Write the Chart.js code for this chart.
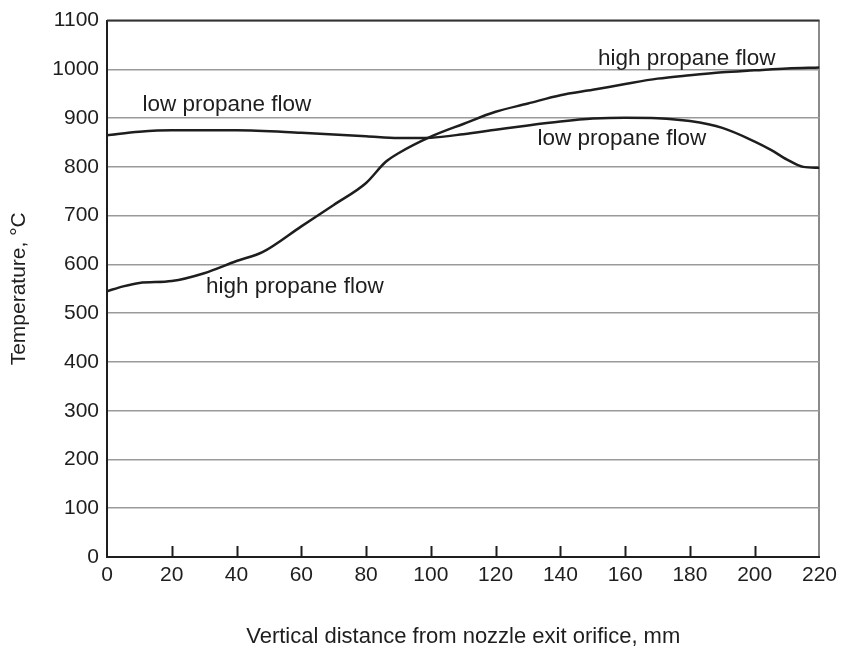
<!DOCTYPE html>
<html>
<head>
<meta charset="utf-8">
<script src="https://cdn.jsdelivr.net/npm/chart.js@4.4.1/dist/chart.umd.min.js"></script>
<style>
  html, body { margin: 0; padding: 0; background: #fff; }
  #wrap { width: 843px; height: 655px; }
</style>
</head>
<body>
<div id="wrap"><canvas id="grafico" width="843" height="655"></canvas></div>
<script>
// data
const xHigh = [0, 5, 10, 20, 30, 40, 48, 60, 70, 80, 86, 90, 100, 110, 120, 130, 140, 150, 160, 170, 180, 190, 200, 210, 220];
const tHigh = [545, 555, 562, 566, 582, 607, 625, 678, 722, 767, 810, 828, 862, 888, 913, 930, 947, 958, 970, 981, 988, 994, 998, 1002, 1004];

const xLow = [0, 10, 20, 40, 60, 80, 90, 100, 110, 120, 130, 140, 150, 160, 170, 180, 190, 200, 205, 210, 215, 220];
const tLow = [865, 872, 875, 875, 870, 863, 859, 860, 867, 876, 885, 893, 899, 901, 900, 894, 880, 852, 835, 815, 800, 798];

const xTicks = [0, 20, 40, 60, 80, 100, 120, 140, 160, 180, 200, 220];
const yTicks = [0, 100, 200, 300, 400, 500, 600, 700, 800, 900, 1000, 1100];

const labelText = ['low propane flow', 'high propane flow', 'high propane flow', 'low propane flow'];
const labelX = [37, 58, 179, 159];
const labelY = [927, 555, 1021, 858];

const ink = '#1e1e1e';
const fuente = 'Liberation Sans, Arial, Helvetica, sans-serif';

const pts = (xs, ys) => xs.map((x, i) => ({ x: x, y: ys[i] }));

// inward ticks on the x axis, top frame line and curve labels
const extras = {
  id: 'extras',
  afterDraw(chart) {
    const c = chart.ctx;
    const sx = chart.scales.x, sy = chart.scales.y;
    const a = chart.chartArea;
    c.save();
    c.strokeStyle = ink;
    c.lineWidth = 2;
    xTicks.forEach(v => {
      if (v === 0 || v === 220) return;
      const px = Math.round(sx.getPixelForValue(v)) + 0.5;
      c.beginPath();
      c.moveTo(px, a.bottom);
      c.lineTo(px, a.bottom - 11);
      c.stroke();
    });
    c.strokeStyle = '#333';
    c.beginPath();
    c.moveTo(a.left, a.top);
    c.lineTo(a.right, a.top);
    c.stroke();
    c.fillStyle = ink;
    c.font = '22.5px ' + fuente;
    c.textAlign = 'center';
    c.textBaseline = 'middle';
    labelText.forEach((t, i) => {
      c.fillText(t, sx.getPixelForValue(labelX[i]), sy.getPixelForValue(labelY[i]));
    });
    c.restore();
  }
};

const ctx = document.getElementById('grafico').getContext('2d');
const myChart = new Chart(ctx, {
  type: 'line',
  data: {
    datasets: [
      {
        label: 'high propane flow',
        data: pts(xHigh, tHigh),
        borderColor: ink,
        borderWidth: 2.5,
        pointRadius: 0,
        cubicInterpolationMode: 'monotone',
        fill: false
      },
      {
        label: 'low propane flow',
        data: pts(xLow, tLow),
        borderColor: ink,
        borderWidth: 2.5,
        pointRadius: 0,
        cubicInterpolationMode: 'monotone',
        fill: false
      }
    ]
  },
  options: {
    responsive: false,
    animation: false,
    layout: { padding: { top: 18, right: 22, left: 0, bottom: 0 } },
    plugins: {
      legend: { display: false },
      tooltip: { enabled: false }
    },
    scales: {
      x: {
        type: 'linear',
        min: 0,
        max: 220,
        afterBuildTicks: s => { s.ticks = xTicks.map(v => ({ value: v })); },
        afterFit: s => { s.height = 98; },
        ticks: {
          color: ink,
          font: { family: fuente, size: 21 },
          padding: 6,
          maxRotation: 0,
          callback: v => String(v)
        },
        grid: {
          drawTicks: false,
          lineWidth: 2,
          color: c => (c.tick && c.tick.value === 220) ? '#8a8a8a' : 'rgba(0,0,0,0)'
        },
        border: { color: ink, width: 2 },
        title: {
          display: true,
          text: 'Vertical distance from nozzle exit orifice, mm',
          color: ink,
          font: { family: fuente, size: 22 },
          padding: { top: 4, bottom: 5 }
        }
      },
      y: {
        min: 0,
        max: 1100,
        afterBuildTicks: s => { s.ticks = yTicks.map(v => ({ value: v })); },
        afterFit: s => { s.width = 107; },
        ticks: {
          color: ink,
          font: { family: fuente, size: 21 },
          padding: 8,
          callback: v => String(v)
        },
        grid: {
          drawTicks: false,
          lineWidth: 1.5,
          color: '#9a9a9a'
        },
        border: { color: ink, width: 2 },
        title: {
          display: true,
          text: 'Temperature, °C',
          color: ink,
          font: { family: fuente, size: 21 },
          padding: { top: 7, bottom: 4 }
        }
      }
    }
  },
  plugins: [extras]
});
</script>
</body>
</html>
